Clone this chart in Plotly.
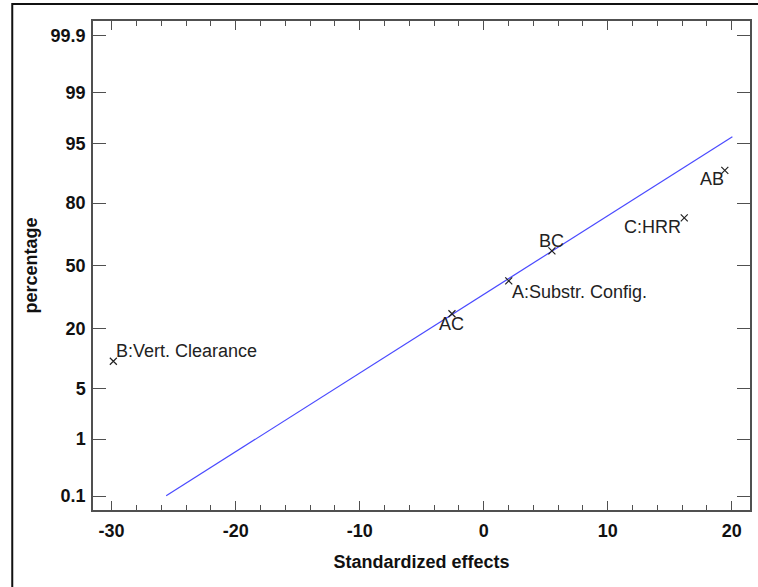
from statistics import NormalDist
import plotly.graph_objects as go

# Effect estimates and their normal plotting positions (percent)
effect_names = ["B:Vert. Clearance", "AC", "A:Substr. Config.", "BC", "C:HRR", "AB"]
std_effects = [-29.86, -2.56, 2.02, 5.5, 16.17, 19.44]
percentages = [10, 26, 42, 58, 74, 90]

# Reference line end points (standardized effect, percent)
line_x = [-25.6, 20.05]
line_pct = [0.101, 95.85]

# Effect axis ticks
effect_ticks = [-30, -20, -10, 0, 10, 20]
effect_labels = ["-30", "-20", "-10", "0", "10", "20"]

# Probability axis ticks
prob_ticks = [0.1, 1, 5, 20, 50, 80, 95, 99, 99.9]
prob_labels = ["0.1", "1", "5", "20", "50", "80", "95", "99", "99.9"]

# Label placement per effect: (xanchor, xshift, yshift)
label_pos = [
    ("left", 1, 10),
    ("center", 0, -10),
    ("left", 1, -11),
    ("center", 0, 10),
    ("right", -1, -9),
    ("right", 1, -9),
]

nd = NormalDist()


def probit(p):
    return nd.inv_cdf(p / 100.0)


pt_z = [probit(p) for p in percentages]
line_z = [probit(p) for p in line_pct]
tick_z = [probit(p) for p in prob_ticks]

FONT = "Liberation Sans, Arial, sans-serif"
AXIS_GRAY = "#505050"
BOLD = dict(family=FONT, size=18, color="#111111", weight="bold")

fig = go.Figure()

fig.add_trace(go.Scatter(
    x=line_x, y=line_z, mode="lines",
    line=dict(color="#4a4aff", width=1.2),
    hoverinfo="skip", showlegend=False,
))

fig.add_trace(go.Scatter(
    x=std_effects, y=pt_z, mode="markers",
    marker=dict(symbol="x-thin", size=7, line=dict(color="#222222", width=1.2)),
    text=effect_names, showlegend=False,
))

for name, xv, zv, (xa, xs, ys) in zip(effect_names, std_effects, pt_z, label_pos):
    fig.add_annotation(
        x=xv, y=zv, text=name, showarrow=False,
        xanchor=xa, yanchor="middle", xshift=xs, yshift=ys,
        font=dict(family=FONT, size=18, color="#222222"),
    )

# Outer frame around the whole figure
fig.add_shape(
    type="rect", xref="paper", yref="paper",
    x0=-0.1229, x1=1.05, y0=-0.2, y1=1.0348,
    line=dict(color="#111111", width=2), layer="below",
)

fig.update_xaxes(
    range=[-31.5, 21.47], tickmode="array", tickvals=effect_ticks, ticktext=effect_labels,
    ticks="inside", ticklen=9, tickwidth=1.3, tickcolor=AXIS_GRAY,
    minor=dict(dtick=2, ticks="inside", ticklen=5, tickwidth=1.2, tickcolor=AXIS_GRAY),
    showline=True, linecolor=AXIS_GRAY, linewidth=1.5, mirror="ticks",
    showgrid=False, zeroline=False, ticklabelstandoff=4,
    tickfont=BOLD,
    title=dict(text="Standardized effects", standoff=15, font=BOLD),
)

fig.update_yaxes(
    range=[-3.278, 3.287], tickmode="array", tickvals=tick_z, ticktext=prob_labels,
    ticks="inside", ticklen=13, tickwidth=1.3, tickcolor=AXIS_GRAY,
    showline=True, linecolor=AXIS_GRAY, linewidth=1.5, mirror="ticks",
    showgrid=False, zeroline=False, ticklabelstandoff=2,
    tickfont=BOLD,
    title=dict(text="percentage", standoff=8, font=BOLD),
)

fig.update_layout(
    width=758, height=587,
    margin=dict(l=93, r=6, t=21, b=77),
    paper_bgcolor="white", plot_bgcolor="white",
    font=dict(family=FONT),
)

fig.write_html("out.html")
